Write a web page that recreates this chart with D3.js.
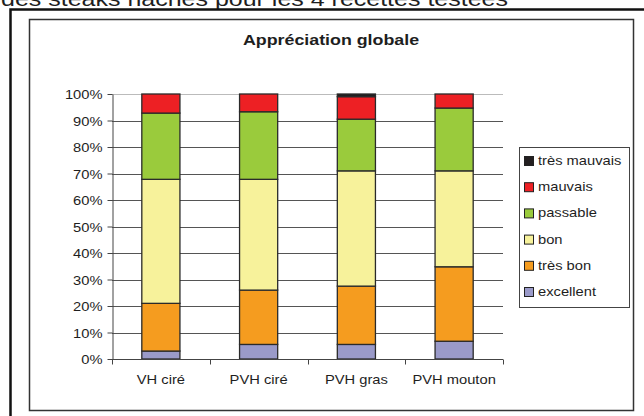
<!DOCTYPE html>
<html>
<head>
    <meta charset="utf-8">
    <title>Appréciation globale</title>
    <script src="https://d3js.org/d3.v7.min.js"></script>
    <style>
        body { margin: 0; background: #fff; }
        text { font-family: "Liberation Sans", Arial, sans-serif; fill: #1e1e1e; }
    </style>
</head>
<body>
<script>
    // data (percent of tasters)
    let recettes = ["VH ciré", "PVH ciré", "PVH gras", "PVH mouton"];
    let niveaux = ["excellent", "très bon", "bon", "passable", "mauvais", "très mauvais"];
    let excellent   = [3, 5.5, 5.5, 6.7];
    let tresBon     = [18, 20.5, 22, 28.1];
    let bon         = [46.8, 41.8, 43.5, 36.2];
    let passable    = [25, 25.5, 19.5, 23.7];
    let mauvais     = [7.2, 6.7, 8.5, 5.3];
    let tresMauvais = [0, 0, 1, 0];
    let couleurs = ["#9a9ac9", "#f59c1f", "#f7f29b", "#9acb3c", "#ed2024", "#231f20"];
    let yTicks = [0, 10, 20, 30, 40, 50, 60, 70, 80, 90, 100];

    let series = [excellent, tresBon, bon, passable, mauvais, tresMauvais];
    let rows = recettes.map((r, i) => {
        let row = {recette: r};
        niveaux.forEach((n, j) => row[n] = series[j][i]);
        return row;
    });

    let width = 644, height = 416;
    let plot = {left: 112, right: 503, top: 94, bottom: 359};
    let sx = 1.15; // text in the picture is a bit stretched

    let svg = d3.select("body").append("svg")
        .attr("width", width)
        .attr("height", height);

    // caption cut off at the top of the page (as in the picture)
    svg.append("text")
        .attr("transform", "translate(1,6) scale(1.19,1)")
        .attr("font-size", 21)
        .text("des steaks hachés pour les 4 recettes testées");

    // outer frame (only left and top visible)
    svg.append("path")
        .attr("d", "M10.5,416 V9.5 H644")
        .attr("fill", "none").attr("stroke", "#111").attr("stroke-width", 2.5);

    // chart area
    svg.append("rect")
        .attr("x", 29.5).attr("y", 19.5)
        .attr("width", 604).attr("height", 391)
        .attr("fill", "#fff").attr("stroke", "#333").attr("stroke-width", 1.5);

    svg.append("text")
        .attr("transform", `translate(331,45) scale(${sx},1)`)
        .attr("text-anchor", "middle")
        .attr("font-size", 15.5).attr("font-weight", "bold")
        .text("Appréciation globale");

    let x = d3.scaleBand().domain(recettes).range([plot.left, plot.right]).paddingInner(0.61).paddingOuter(0.305);
    let xOuter = d3.scaleBand().domain(recettes).range([plot.left, plot.right]);
    let y = d3.scaleLinear().domain([0, 100]).range([plot.bottom, plot.top]);

    // gridlines
    svg.append("g")
        .selectAll("line")
        .data(yTicks.slice(1))
        .join("line")
        .attr("x1", plot.left).attr("x2", plot.right)
        .attr("y1", d => Math.round(y(d)) + 0.5).attr("y2", d => Math.round(y(d)) + 0.5)
        .attr("stroke", d => d === 100 ? "#bbb" : "#555")
        .attr("stroke-width", 1);

    // bars
    let stack = d3.stack().keys(niveaux)(rows);
    svg.append("g")
        .selectAll("g")
        .data(stack)
        .join("g")
        .attr("fill", (d, i) => couleurs[i])
        .selectAll("rect")
        .data(d => d.filter(s => s[1] - s[0] > 0))
        .join("rect")
        .attr("x", d => x(d.data.recette))
        .attr("width", x.bandwidth())
        .attr("y", d => y(d[1]))
        .attr("height", d => y(d[0]) - y(d[1]))
        .attr("stroke", "#2a2a2a")
        .attr("stroke-width", 1.3);

    // y axis
    let yAxis = svg.append("g")
        .attr("transform", `translate(${plot.left + 0.5},0)`)
        .call(d3.axisLeft(y).tickValues(yTicks).tickFormat(d => d + "%").tickSize(5).tickSizeOuter(0));
    yAxis.select(".domain").attr("stroke", "#444");
    yAxis.selectAll(".tick line").attr("stroke", "#444");
    yAxis.selectAll(".tick text")
        .attr("font-family", "Liberation Sans, Arial, sans-serif")
        .attr("font-size", 12.8)
        .attr("fill", "#1e1e1e")
        .attr("x", null).attr("dy", "0.36em")
        .attr("transform", `translate(-10,0) scale(${sx},1)`);

    // x axis
    let xAxis = svg.append("g")
        .attr("transform", `translate(0,${plot.bottom + 0.5})`)
        .call(d3.axisBottom(xOuter).tickSize(0).tickFormat(""));
    xAxis.select(".domain").remove();
    xAxis.append("line")
        .attr("x1", plot.left).attr("x2", plot.right)
        .attr("stroke", "#444");
    xAxis.selectAll(".sep")
        .data(recettes.concat(["end"]))
        .join("line")
        .attr("class", "sep")
        .attr("x1", (d, i) => Math.round(plot.left + i * xOuter.bandwidth()) + 0.5)
        .attr("x2", (d, i) => Math.round(plot.left + i * xOuter.bandwidth()) + 0.5)
        .attr("y1", 0).attr("y2", 5)
        .attr("stroke", "#444");
    svg.append("g")
        .selectAll("text")
        .data(recettes)
        .join("text")
        .attr("transform", d => `translate(${xOuter(d) + xOuter.bandwidth() / 2},384) scale(${sx},1)`)
        .attr("text-anchor", "middle")
        .attr("font-size", 12.8)
        .text(d => d);

    // legend
    let legend = svg.append("g");
    legend.append("rect")
        .attr("x", 519.5).attr("y", 147.5)
        .attr("width", 110).attr("height", 160)
        .attr("fill", "#fff").attr("stroke", "#444");
    let items = legend.selectAll(".item")
        .data(niveaux.slice().reverse())
        .join("g")
        .attr("class", "item")
        .attr("transform", (d, i) => `translate(0,${165 + i * 26.2})`);
    items.append("rect")
        .attr("x", 524.5).attr("y", -8.5)
        .attr("width", 9).attr("height", 9)
        .attr("fill", d => couleurs[niveaux.indexOf(d)])
        .attr("stroke", "#222");
    items.append("text")
        .attr("transform", `translate(538,0) scale(${sx},1)`)
        .attr("font-size", 12.8)
        .text(d => d);
</script>
</body>
</html>
